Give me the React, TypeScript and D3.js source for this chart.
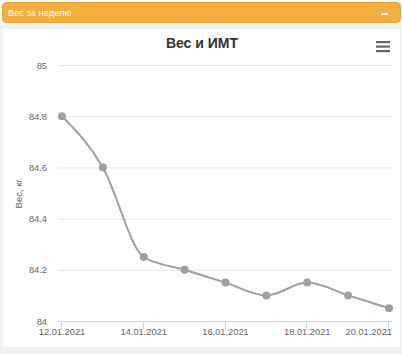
import React from "react";
import * as d3 from "d3";

const dates = ["2021-01-12","2021-01-13","2021-01-14","2021-01-15","2021-01-16","2021-01-17","2021-01-18","2021-01-19","2021-01-20"];
const weights = [84.8, 84.6, 84.25, 84.2, 84.15, 84.1, 84.15, 84.1, 84.05];
const yTicks = [84, 84.2, 84.4, 84.6, 84.8, 85];
const xTickDates = ["2021-01-12","2021-01-14","2021-01-16","2021-01-18","2021-01-20"];
const panelTitle = "Вес за неделю";
const chartTitle = "Вес и ИМТ";
const yAxisTitle = "Вес, кг.";

const W = 402, H = 354;
const font = "'Liberation Sans', Arial, sans-serif";

export default function App() {
  const parse = (s: string) => new Date(s + "T00:00:00Z");
  const x = d3.scaleUtc().domain([parse(dates[0]), parse(dates[dates.length - 1])]).range([62, 389]);
  const y = d3.scaleLinear().domain([84, 85]).range([321, 65]);
  const plotL = 58, plotR = 393;
  const fmt = d3.utcFormat("%d.%m.%Y");
  const data = dates.map((d, i) => ({ d: parse(d), v: weights[i] }));
  const line = d3.line<{ d: Date; v: number }>().x(p => x(p.d)).y(p => y(p.v)).curve(d3.curveMonotoneX);

  return (
    <svg width={W} height={H} style={{ position: "absolute", left: 0, top: 0, fontFamily: font }}>
      <rect x={0} y={0} width={W} height={H} fill="#ffffff" />
      <rect x={0} y={24} width={W} height={H - 24} fill="#f1f1f1" />
      <rect x={2.5} y={2.5} width={398} height={20} rx={4} fill="#f5ae3f" stroke="#eaa12e" />
      <text x={8} y={16} fontSize={9.3} fill="#ffffff">{panelTitle}</text>
      <rect x={381} y={13} width={7} height={2} fill="#ffffff" />
      <rect x={3} y={29} width={397} height={318} fill="#ffffff" />
      <text x={202} y={48} textAnchor="middle" fontSize={14} fontWeight="bold" fill="#333333">{chartTitle}</text>
      <g fill="#666666">
        <rect x={376} y={41} width={14} height={2.2} />
        <rect x={376} y={45.5} width={14} height={2.2} />
        <rect x={376} y={50} width={14} height={2.2} />
      </g>
      {yTicks.map(t => (
        <g key={t}>
          {t !== 84 && <line x1={plotL} x2={plotR} y1={y(t) + 0.5} y2={y(t) + 0.5} stroke="#e6e6e6" strokeWidth={1} />}
          <text x={47} y={y(t) + 3.5} textAnchor="end" fontSize={9.3} fill="#666666">{String(t)}</text>
        </g>
      ))}
      <text transform={`translate(22,193) rotate(-90)`} textAnchor="middle" fontSize={9.5} fill="#666666">{yAxisTitle}</text>
      <line x1={plotL} x2={plotR} y1={y(84) + 0.5} y2={y(84) + 0.5} stroke="#ccd6eb" />
      {xTickDates.map((s, i) => {
        const xv = Math.round(x(parse(s))) - 0.5;
        const last = i === xTickDates.length - 1;
        return (
          <g key={s}>
            <line x1={xv} x2={xv} y1={y(84)} y2={y(84) + 9} stroke="#ccd6eb" />
            <text x={last ? 392 : x(parse(s))} y={y(84) + 14} textAnchor={last ? "end" : "middle"} fontSize={9.3} fill="#666666">{fmt(parse(s))}</text>
          </g>
        );
      })}
      <path d={line(data) ?? ""} fill="none" stroke="#a0a0a0" strokeWidth={2} />
      {data.map((p, i) => (
        <circle key={i} cx={x(p.d)} cy={y(p.v)} r={4} fill="#a0a0a0" />
      ))}
    </svg>
  );
}
